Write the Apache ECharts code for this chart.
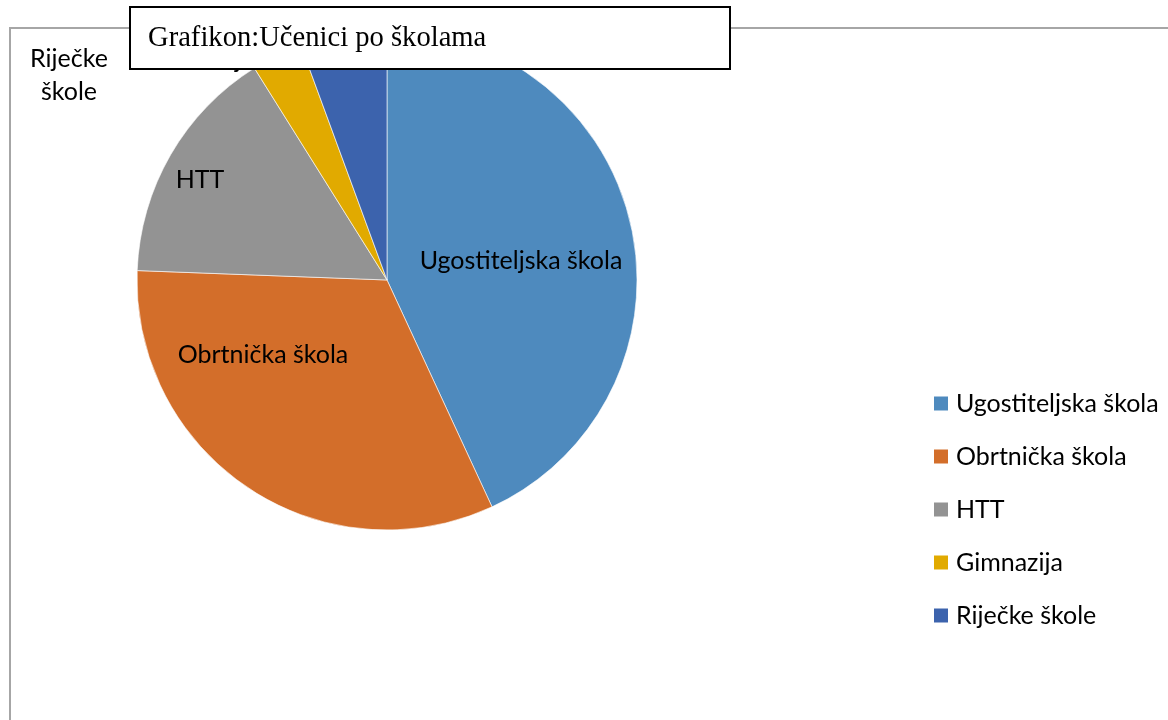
<!DOCTYPE html>
<html>
<head>
<meta charset="utf-8">
<script src="https://cdn.jsdelivr.net/npm/echarts@6/dist/echarts.min.js"></script>
<style>
html,body{margin:0;padding:0;background:#fff;}
#chart{width:1168px;height:720px;}
</style>
</head>
<body>
<div id="chart"></div>
<script>
const titleText = 'Grafikon:Učenici po školama';
const categories = ['Ugostiteljska škola', 'Obrtnička škola', 'HTT', 'Gimnazija', 'Riječke škole'];
const values = [43.1, 32.5, 15.5, 3.3, 5.6];
const colors = ['#4E8ABE', '#D36E2A', '#939393', '#E1AA00', '#3C63AD'];
const labelNames = ['Ugostiteljska škola', 'Obrtnička škola', 'HTT', 'Gimnazija', 'Riječke\nškole'];

const labelSpots = [[521, 261], [263, 355], [200, 180], [200, 60], [69, 75]];

const chart = echarts.init(document.getElementById('chart'));
const LBL_FONT = 'Lato';
chart.setOption({
  animation: false,
  backgroundColor: '#fff',
  graphic: [{
    type: 'rect',
    z: 0,
    shape: {x: 10, y: 28, width: 1300, height: 900},
    style: {fill: 'none', stroke: '#a6a6a6', lineWidth: 2}
  }],
  title: {
    text: titleText,
    left: 130,
    top: 7,
    z: 10,
    backgroundColor: '#fff',
    borderColor: '#000',
    borderWidth: 2,
    padding: [0, 0, 0, 18],
    textStyle: {
      fontFamily: 'Liberation Serif',
      fontSize: 28.6,
      fontWeight: 'normal',
      color: '#000',
      width: 582,
      height: 62,
      lineHeight: 62
    }
  },
  legend: {
    orient: 'vertical',
    left: 932,
    top: 391,
    padding: 0,
    itemWidth: 16,
    itemHeight: 16,
    itemGap: 28,
    icon: 'rect',
    data: categories,
    textStyle: {
      fontFamily: LBL_FONT,
      fontSize: 25,
      lineHeight: 24,
      color: '#000',
      padding: [0, 0, 0, 2]
    }
  },
  series: [{
    type: 'pie',
    center: [387, 280],
    radius: 250,
    startAngle: 90,
    clockwise: true,
    z: 2,
    itemStyle: {borderColor: '#fff', borderWidth: 0.6},
    label: {
      show: true,
      position: 'inside',
      fontFamily: LBL_FONT,
      fontSize: 25,
      lineHeight: 33,
      color: '#000',
      formatter: p => labelNames[p.dataIndex]
    },
    labelLine: {show: false},
    labelLayout: p => ({
      x: labelSpots[p.dataIndex][0],
      y: labelSpots[p.dataIndex][1],
      align: 'center',
      verticalAlign: 'middle'
    }),
    emphasis: {disabled: true},
    data: categories.map((c, i) => ({name: c, value: values[i], itemStyle: {color: colors[i]}}))
  }]
});
</script>
</body>
</html>
